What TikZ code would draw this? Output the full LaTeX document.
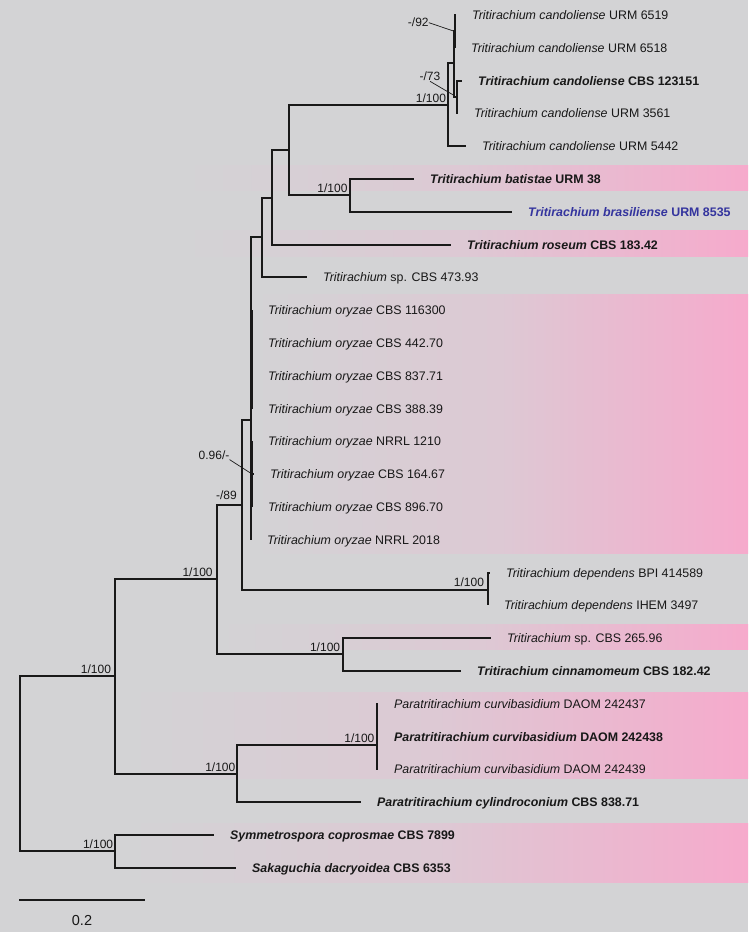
\documentclass[tikz,border=0pt]{standalone}
\usepackage{fontspec}
\setmainfont{Liberation Sans}
\usetikzlibrary{positioning}

\definecolor{panelgray}{RGB}{211,211,213}
\definecolor{bandmid}{RGB}{221,201,212}
\definecolor{bandpink}{RGB}{246,170,204}
\definecolor{strainblue}{RGB}{52,52,158}
\definecolor{treeline}{RGB}{25,25,25}
\definecolor{labelink}{RGB}{24,24,24}
\pgfdeclarehorizontalshading{bandshade}{100bp}{color(0bp)=(panelgray); color(25bp)=(panelgray); color(50bp)=(bandmid); color(75bp)=(bandpink); color(100bp)=(bandpink)}

\begin{document}
\begin{tikzpicture}[x=1pt, y=-1pt,
  font=\fontsize{12.4}{14}\selectfont,
  branch/.style={line width=2pt, draw=treeline},
  leader/.style={line width=0.7pt, draw=treeline},
  taxon/.style={anchor=west, inner sep=0pt, text height=8.9pt, text depth=0pt, text=labelink},
  support/.style={inner sep=0pt, text=labelink, font=\fontsize{12}{14}\selectfont},
  band/.style={shading=bandshade}
]
\useasboundingbox (0,0) rectangle (748,932);
\fill[panelgray] (0,0) rectangle (748,932);
\shade[band] (180,165) rectangle (748,190);
\shade[band] (180,230) rectangle (748,256);
\shade[band] (250,294) rectangle (748,553);
\shade[band] (215,624) rectangle (748,649);
\shade[band] (125,692) rectangle (748,778);
\shade[band] (125,823) rectangle (748,882);

\coordinate (root) at (20,764);
\coordinate (nA) at (115,676);
\coordinate (nB) at (217,579);
\coordinate (nC) at (242,505);
\coordinate (nD) at (251,420);
\coordinate (nE) at (262,237);
\coordinate (nF) at (272,198);
\coordinate (nG) at (289,150);
\coordinate (nH) at (448,105);
\coordinate (nI) at (454,63);
\coordinate (nI2) at (455,31);
\coordinate (nJ) at (457,97);
\coordinate (nK) at (350,195);
\coordinate (nQ) at (252,360);
\coordinate (nR) at (252,474);
\coordinate (nL) at (488,590);
\coordinate (nM) at (343,654);
\coordinate (nN) at (237,774);
\coordinate (nO) at (377,745);
\coordinate (nP) at (115,851);

\coordinate (t1) at (456,15);
\coordinate (t2) at (455,48);
\coordinate (t3) at (462,81);
\coordinate (t4) at (458,113);
\coordinate (t5) at (466,146);
\coordinate (t6) at (414,179);
\coordinate (t7) at (512,212);
\coordinate (t8) at (451,245);
\coordinate (t9) at (307,277);
\coordinate (t10) at (252,310);
\coordinate (t11) at (252,343);
\coordinate (t12) at (252,376);
\coordinate (t13) at (252,409);
\coordinate (t14) at (252,441);
\coordinate (t15) at (254,474);
\coordinate (t16) at (252,507);
\coordinate (t17) at (251,540);
\coordinate (t18) at (490,573);
\coordinate (t19) at (488,605);
\coordinate (t20) at (491,638);
\coordinate (t21) at (461,671);
\coordinate (t22) at (378,704);
\coordinate (t23) at (378,737);
\coordinate (t24) at (378,769);
\coordinate (t25) at (361,802);
\coordinate (t26) at (214,835);
\coordinate (t27) at (236,868);

\draw[branch] (root) |- (nA) (root) |- (nP);
\draw[branch] (nA) |- (nB) (nA) |- (nN);
\draw[branch] (nB) |- (nC) (nB) |- (nM);
\draw[branch] (nC) |- (nD) (nC) |- (nL);
\draw[branch] (nD) |- (nE) (nD) |- (nQ) (nD) |- (nR) (nD) |- (t17);
\draw[branch] (nE) |- (nF) (nE) |- (t9);
\draw[branch] (nF) |- (nG) (nF) |- (t8);
\draw[branch] (nG) |- (nH) (nG) |- (nK);
\draw[branch] (nH) |- (nI) (nH) |- (t5);
\draw[branch] (nI) |- (nI2) (nI) |- (nJ);
\draw[branch] (nI2) |- (t1) (nI2) |- (t2);
\draw[branch] (nJ) |- (t3) (nJ) |- (t4);
\draw[branch] (nK) |- (t6) (nK) |- (t7);
\draw[branch] (nQ) |- (t10) (nQ) |- (t11) (nQ) |- (t12) (nQ) |- (t13);
\draw[branch] (nR) |- (t14) (nR) -- (t15) (nR) |- (t16);
\draw[branch] (nL) |- (t18) (nL) |- (t19);
\draw[branch] (nM) |- (t20) (nM) |- (t21);
\draw[branch] (nN) |- (nO) (nN) |- (t25);
\draw[branch] (nO) |- (t22) (nO) |- (t23) (nO) |- (t24);
\draw[branch] (nP) |- (t26) (nP) |- (t27);

\node[taxon, right=16pt of t1] (l1) {\textit{Tritirachium candoliense} URM 6519};
\node[taxon, right=16pt of t2] (l2) {\textit{Tritirachium candoliense} URM 6518};
\node[taxon, right=16pt of t3] (l3) {\textbf{\textit{Tritirachium candoliense} CBS 123151}};
\node[taxon, right=16pt of t4] (l4) {\textit{Tritirachium candoliense} URM 3561};
\node[taxon, right=16pt of t5] (l5) {\textit{Tritirachium candoliense} URM 5442};
\node[taxon, right=16pt of t6] (l6) {\textbf{\textit{Tritirachium batistae} URM 38}};
\node[taxon, right=16pt of t7, text=strainblue] (l7) {\textbf{\textit{Tritirachium brasiliense} URM 8535}};
\node[taxon, right=16pt of t8] (l8) {\textbf{\textit{Tritirachium roseum} CBS 183.42}};
\node[taxon, right=16pt of t9] (l9) {\textit{Tritirachium} sp. CBS 473.93};
\node[taxon, right=16pt of t10] (l10) {\textit{Tritirachium oryzae} CBS 116300};
\node[taxon, right=16pt of t11] (l11) {\textit{Tritirachium oryzae} CBS 442.70};
\node[taxon, right=16pt of t12] (l12) {\textit{Tritirachium oryzae} CBS 837.71};
\node[taxon, right=16pt of t13] (l13) {\textit{Tritirachium oryzae} CBS 388.39};
\node[taxon, right=16pt of t14] (l14) {\textit{Tritirachium oryzae} NRRL 1210};
\node[taxon, right=16pt of t15] (l15) {\textit{Tritirachium oryzae} CBS 164.67};
\node[taxon, right=16pt of t16] (l16) {\textit{Tritirachium oryzae} CBS 896.70};
\node[taxon, right=16pt of t17] (l17) {\textit{Tritirachium oryzae} NRRL 2018};
\node[taxon, right=16pt of t18] (l18) {\textit{Tritirachium dependens} BPI 414589};
\node[taxon, right=16pt of t19] (l19) {\textit{Tritirachium dependens} IHEM 3497};
\node[taxon, right=16pt of t20] (l20) {\textit{Tritirachium} sp. CBS 265.96};
\node[taxon, right=16pt of t21] (l21) {\textbf{\textit{Tritirachium cinnamomeum} CBS 182.42}};
\node[taxon, right=16pt of t22] (l22) {\textit{Paratritirachium curvibasidium} DAOM 242437};
\node[taxon, right=16pt of t23] (l23) {\textbf{\textit{Paratritirachium curvibasidium} DAOM 242438}};
\node[taxon, right=16pt of t24] (l24) {\textit{Paratritirachium curvibasidium} DAOM 242439};
\node[taxon, right=16pt of t25] (l25) {\textbf{\textit{Paratritirachium cylindroconium} CBS 838.71}};
\node[taxon, right=16pt of t26] (l26) {\textbf{\textit{Symmetrospora coprosmae} CBS 7899}};
\node[taxon, right=16pt of t27] (l27) {\textbf{\textit{Sakaguchia dacryoidea} CBS 6353}};

\node[support, above left=2.2pt and 1.8pt of nH] (s1) {1/100};
\node[support, above left=2.2pt and 2.3pt of nK] (s2) {1/100};
\node[support, above left=4.7pt and 5pt of nC] (s3) {-/89};
\node[support, above left=2.2pt and 4.2pt of nB] (s4) {1/100};
\node[support, above left=3pt and 3.8pt of nL] (s5) {1/100};
\node[support, above left=2.5pt and 2.7pt of nM] (s6) {1/100};
\node[support, above left=2.2pt and 3.8pt of nA] (s7) {1/100};
\node[support, above left=2pt and 2.4pt of nO] (s8) {1/100};
\node[support, above left=2pt and 1.5pt of nN] (s9) {1/100};
\node[support, above left=2.5pt and 1.7pt of nP] (s10) {1/100};

\node[support] (s92) at (418.3,22.7) {-/92};
\node[support] (s73) at (430,76.7) {-/73};
\node[support] (s096) at (214,455) {0.96/-};
\coordinate (k92) at (453.5,31);
\coordinate (k73) at (453.3,95);
\draw[leader] (s92.east) -- (k92);
\draw[leader] (s73.south) -- (k73);
\draw[leader] (s096.south east) -- (nR);

\coordinate (sb0) at (19,900);
\coordinate (sb1) at (145,900);
\draw[branch] (sb0) -- (sb1);
\node[text=labelink, font=\fontsize{14.5}{16}\selectfont] (sbl) at (82,920) {0.2};
\end{tikzpicture}
\end{document}
